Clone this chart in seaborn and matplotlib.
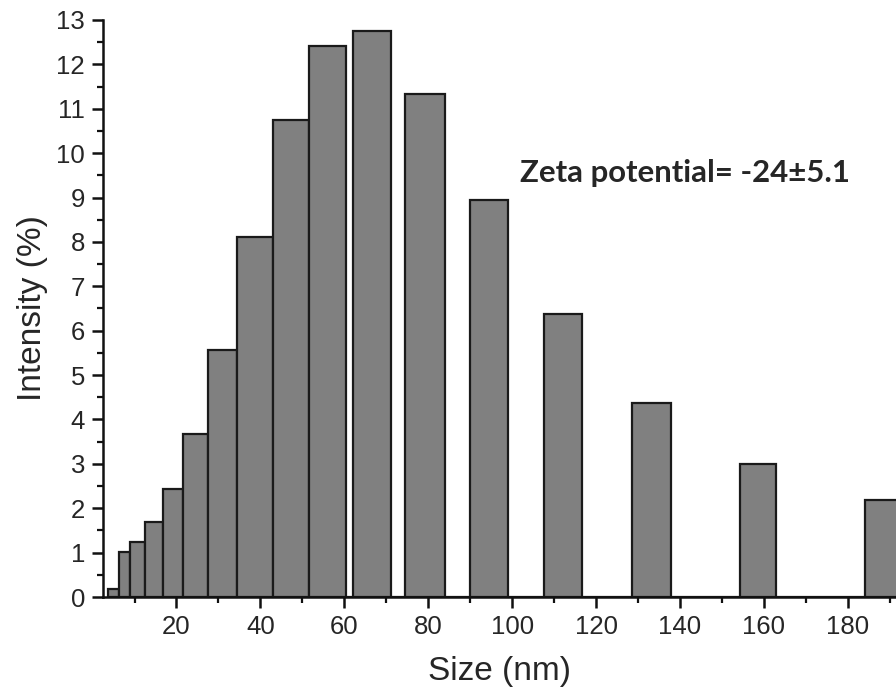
import numpy as np
import pandas as pd
import seaborn as sns
import matplotlib
matplotlib.use("Agg")
import matplotlib.pyplot as plt
from matplotlib.ticker import MultipleLocator

size_lo = [3.7, 6.3, 9.0, 12.6, 16.7, 21.6, 27.5, 34.4, 43.1, 51.5,
           62.1, 74.5, 89.9, 107.5, 128.6, 154.2, 184.2]
size_hi = [6.3, 9.0, 12.6, 16.7, 21.6, 27.5, 34.4, 43.1, 51.5, 60.4,
           71.2, 83.9, 99.1, 116.6, 137.9, 163.0, 193.5]
intensity = [0.17, 1.02, 1.25, 1.70, 2.43, 3.68, 5.56, 8.12, 10.75, 12.42,
             12.75, 11.33, 8.95, 6.37, 4.36, 3.00, 2.18]

df = pd.DataFrame({"lo": size_lo, "hi": size_hi, "val": intensity})
df["mid"] = (df["lo"] + df["hi"]) / 2
edges = sorted(set(size_lo) | set(size_hi))

sns.set_style("ticks")
plt.rcParams['font.family'] = ['Liberation Sans', 'DejaVu Sans']

fig = plt.figure(figsize=(8.96, 6.89), dpi=100)
ax = fig.add_axes([0.115, 0.1335, 0.885, 0.8375])

sns.histplot(data=df, x="mid", weights="val", bins=edges, stat="count",
             color="#808080", edgecolor="#1a1a1a", linewidth=1.6, alpha=1,
             ax=ax)

ax.set_xlim(2.5, 191.5)
ax.set_ylim(0, 13)
ax.xaxis.set_major_locator(MultipleLocator(20))
ax.xaxis.set_minor_locator(MultipleLocator(10))
ax.yaxis.set_major_locator(MultipleLocator(1))
ax.yaxis.set_minor_locator(MultipleLocator(0.5))
ax.tick_params(which="major", direction="out", length=8, width=1.8,
               labelsize=18.5, color="#111111", pad=5)
ax.tick_params(which="minor", direction="out", length=4.5, width=1.6,
               color="#111111")
for s in ["left", "bottom"]:
    ax.spines[s].set_linewidth(1.8)
    ax.spines[s].set_color("#111111")
ax.spines["top"].set_visible(False)
ax.spines["right"].set_visible(False)

ax.set_xlabel("Size (nm)", fontsize=24, labelpad=12)
ax.set_ylabel("Intensity (%)", fontsize=24, labelpad=6)

ax.text(101.8, 9.35, "Zeta potential= -24±5.1", fontsize=22.4,
        fontweight="bold", family=["Lato", "DejaVu Sans"],
        ha="left", va="baseline")

fig.savefig("out.png", dpi=100)
